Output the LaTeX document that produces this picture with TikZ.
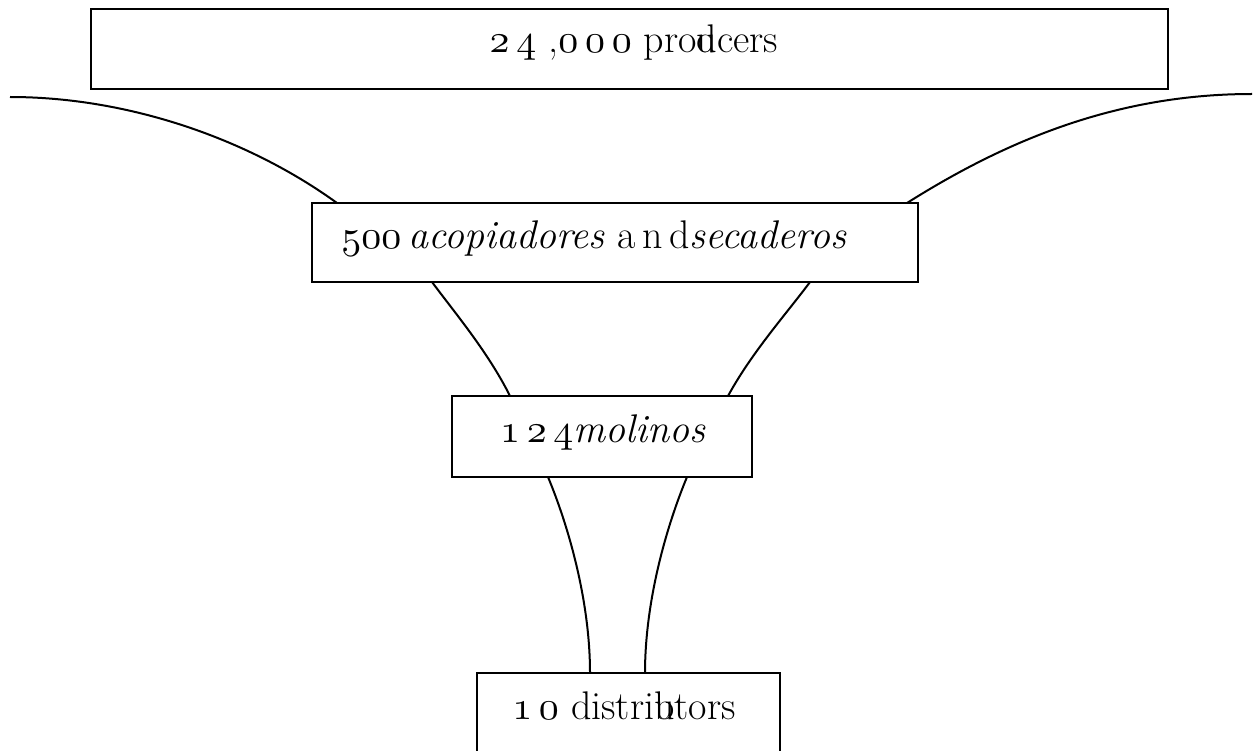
\documentclass[tikz,border=0pt]{standalone}
% old-style figures: math italic digits, freely scaled
\DeclareFontFamily{OML}{osfig}{\skewchar\font127}
\DeclareFontShape{OML}{osfig}{m}{it}{<-> cmmi10}{}
\newcommand{\osn}[1]{{\usefont{OML}{osfig}{m}{it}#1}}
\begin{document}
\begin{tikzpicture}[x=1pt,y=-1pt,
  tier/.style={draw=black,line width=2.6pt,fill=none,inner sep=0pt,outer sep=0pt,rectangle},
  link/.style={draw=black,line width=2pt},
  lbl/.style={anchor=base,inner sep=0pt,font=\fontsize{40}{44}\selectfont}]
\useasboundingbox (0,0) rectangle (1260,751);

% the four tiers of the chain
\node[tier,minimum width=1077pt,minimum height=80pt] (prod) at (629.5,49) {};
\node[tier,minimum width=606pt,minimum height=79pt] (acop) at (615,242.5) {};
\node[tier,minimum width=300pt,minimum height=81pt] (mol) at (602,436.5) {};
\node[tier,minimum width=303pt,minimum height=100pt] (dist) at (628.5,723) {};

% labels
\node[lbl] (tprod) at (634,53) {\osn{2}\,\osn{4}\ ,\osn{0}\,\osn{0}\,\osn{0} pro\rlap{d}ucers};
\node[lbl] (tacop) at (594,248) {\osn{500}\,\textit{acopiadores} a\,n\,d\textit{secaderos}};
\node[lbl] (tmol) at (603,442) {\osn{1}\,\osn{2}\,\osn{4}\textit{molinos}};
\node[lbl] (tdist) at (624,719) {\osn{1}\,\osn{0} distri\rlap{b}utors};

% funnel walls
\coordinate (fl) at (10,97);
\coordinate (fr) at (1252,94);
\coordinate (al) at ([xshift=25pt]acop.north west);
\coordinate (ar) at ([xshift=-11pt]acop.north east);
\coordinate (bl) at ([xshift=120pt]acop.south west);
\coordinate (br) at ([xshift=-108pt]acop.south east);
\coordinate (ml) at ([xshift=58pt]mol.north west);
\coordinate (mr) at ([xshift=-24pt]mol.north east);
\coordinate (nl) at ([xshift=96pt]mol.south west);
\coordinate (nr) at ([xshift=-65pt]mol.south east);
\coordinate (dl) at ([xshift=113pt]dist.north west);
\coordinate (dr) at ([xshift=-135pt]dist.north east);

\draw[link] (fl) .. controls (130,97) and (250,140) .. (al);
\draw[link] (fr) .. controls (1120,94) and (1010,138) .. (ar);
\draw[link] (bl) .. controls (455,313) and (488,352) .. (ml);
\draw[link] (br) .. controls (787,313) and (752,352) .. (mr);
\draw[link] (nl) .. controls (568,525) and (590,600) .. (dl);
\draw[link] (nr) .. controls (667,525) and (645,600) .. (dr);
\end{tikzpicture}
\end{document}
